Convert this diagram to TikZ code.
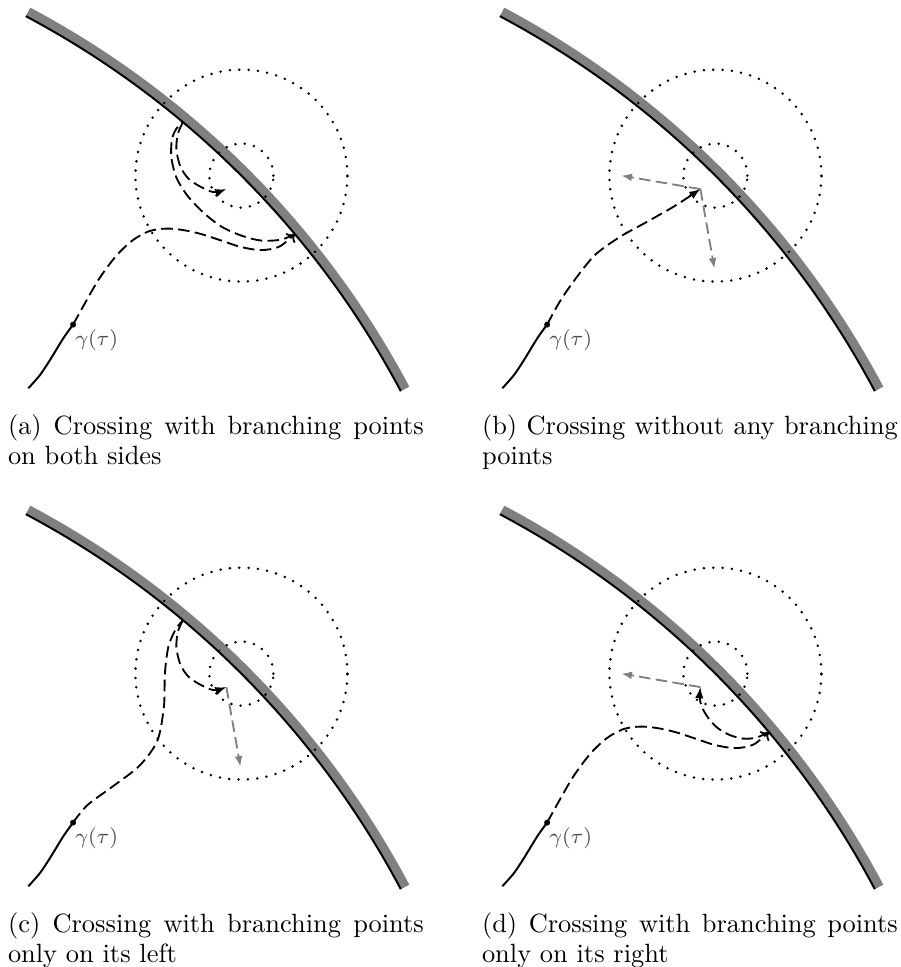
\documentclass[tikz,border=0pt]{standalone}
\usetikzlibrary{arrows.meta}
\tikzset{
  band/.style={line width=3.5pt, draw=gray},
  bdry/.style={line width=0.75pt, draw=black},
  dotcirc/.style={line width=1.05pt, line cap=round, dash pattern=on 0pt off 3.55pt},
  dsh/.style={line width=0.7pt, dash pattern=on 4.4pt off 2pt},
  gdsh/.style={dsh, draw=gray},
  tipP/.style={-{Latex[length=4.2pt,width=3.2pt]}},
  tipG/.style={-{Latex[length=4pt,width=3pt]}},
  tipB/.style={-{To[length=2.6pt,width=5pt]}},
  captext/.style={anchor=base west, inner sep=0pt},
  glab/.style={anchor=base west, inner sep=0pt, text=black!70, font=\fontsize{8.3}{10}\selectfont},
}
\newcommand\panelbase[1]{%
  \coordinate (O#1) at (0,0);
  \coordinate (C#1) at (-641.4,-641.4);
  \draw[band] (C#1) ++(62:912) arc[start angle=62,end angle=28,radius=912];
  \draw[bdry] (C#1) ++(62:907) arc[start angle=62,end angle=28,radius=907];
  \draw[dotcirc] (O#1) circle[radius=106];
  \draw[dotcirc] (O#1) circle[radius=32];
  \coordinate (G#1) at (-168.3,-149);
  \draw[bdry] plot[smooth] coordinates {(-213.1,-212.7) (-201.4,-199.4) (-191.4,-184.4) (-178.1,-162.7) (-168.3,-149)};
  \fill (G#1) circle[radius=3];
  \node[glab] (L#1) at (-166.5,-170) {$\gamma(\tau)$};
  \coordinate (B1#1) at (53.4,-58.4);
  \coordinate (B2#1) at (-58.4,53.4);
  \coordinate (P#1) at (-15,-13.5);
}
\newcommand\gammaright{%
  plot[smooth] coordinates {(-168.3,-149) (-155,-125) (-141.5,-102) (-125,-80) (-108.5,-64.5) (-92,-55.5) (-75,-53) (-58,-54.5) (-40,-58.5) (-20,-65) (0,-71.5) (20,-74.5) (38,-71) (53.4,-58.4)}}
\newcommand\innerloop{%
  plot[smooth] coordinates {(-58.4,53.4) (-63.5,42) (-65,26) (-61,9) (-53,-3) (-42,-10.5) (-28,-16.5) (-15,-13.5)}}
\begin{document}
\begin{tikzpicture}[x=0.3788pt,y=0.3788pt]
\useasboundingbox (0,0) rectangle (901,-967);
% (a)
\begin{scope}[shift={(241.4,-175.6)}]
  \panelbase{a}
  \draw[dsh,tipB] \gammaright;
  \draw[dsh] plot[smooth] coordinates {(53.4,-58.4) (40,-64) (20,-65) (0,-60) (-20,-51) (-38,-37) (-54,-20) (-65,-2) (-70,18) (-69.5,36) (-65,47) (-58.4,53.4)};
  \draw[dsh,tipP] \innerloop;
\end{scope}
% (b)
\begin{scope}[shift={(715.4,-175.6)}]
  \panelbase{b}
  \draw[gdsh,tipG] (Pb) -- (-94,0);
  \draw[gdsh,tipG] (Pb) -- (-1,-93);
  \draw[dsh,tipP] plot[smooth] coordinates {(-168.3,-149) (-155,-125) (-139,-102) (-120,-79) (-95,-61) (-68,-46) (-40,-30) (-15,-13.5)};
\end{scope}
% (c)
\begin{scope}[shift={(241.4,-673.6)}]
  \panelbase{c}
  \draw[gdsh,tipG] (Pc) -- (-1,-93);
  \draw[dsh] plot[smooth] coordinates {(-168.3,-149) (-154,-131.5) (-127.5,-112) (-101.5,-91.7) (-84,-67) (-77.5,-33) (-76.5,0) (-73,27) (-65.7,44.3) (-58.4,53.4)};
  \draw[dsh,tipP] \innerloop;
\end{scope}
% (d)
\begin{scope}[shift={(715.4,-673.6)}]
  \panelbase{d}
  \draw[gdsh,tipG] (Pd) -- (-94,0);
  \draw[dsh,tipB] \gammaright;
  \draw[dsh,tipP] plot[smooth] coordinates {(53.4,-58.4) (41,-64) (28,-65) (14.5,-61.5) (3,-55) (-5.5,-46.5) (-12,-36.5) (-15.5,-26) (-15,-13.5)};
\end{scope}
% captions
\node[captext] (capa1) at (7.5,-434) {\makebox[157.5pt][s]{(a) Crossing with branching points}};
\node[captext] (capa2) at (7.5,-464) {on both sides};
\node[captext] (capb1) at (481.5,-434) {\makebox[157.5pt][s]{(b) Crossing without any branching}};
\node[captext] (capb2) at (481.5,-464) {points};
\node[captext] (capc1) at (7.5,-932) {\makebox[157.5pt][s]{(c) Crossing with branching points}};
\node[captext] (capc2) at (7.5,-962) {only on its left};
\node[captext] (capd1) at (481.5,-932) {\makebox[157.5pt][s]{(d) Crossing with branching points}};
\node[captext] (capd2) at (481.5,-962) {only on its right};
\end{tikzpicture}
\end{document}
